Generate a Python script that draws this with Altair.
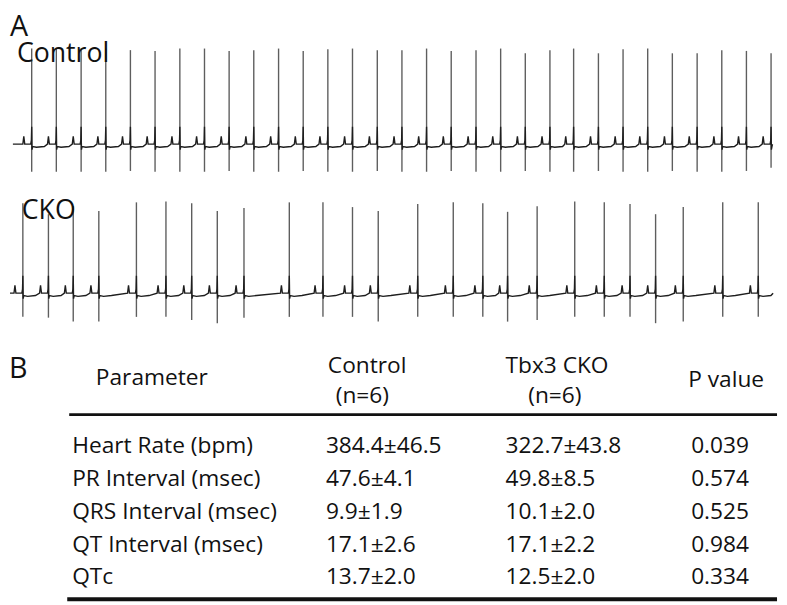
import altair as alt
import pandas as pd

FONT = "Open Sans"

# ---------------- ECG data (beat time in s, R peak and S trough in mV) ----------------
ctrl_t = [0.150, 0.306, 0.463, 0.619, 0.775, 0.931, 1.088, 1.244, 1.400, 1.556, 1.713,
          1.869, 2.025, 2.181, 2.338, 2.494, 2.650, 2.806, 2.963, 3.119, 3.275, 3.431,
          3.581, 3.738, 3.894, 4.050, 4.206, 4.363, 4.519, 4.675, 4.831]
ctrl_r = [1.21, 1.21, 1.21, 1.21, 1.19, 1.18, 1.21, 1.21, 1.18, 1.19, 1.21,
          1.18, 1.20, 1.21, 1.19, 1.19, 1.21, 1.18, 1.19, 1.21, 1.15, 1.19,
          1.21, 1.15, 1.20, 1.21, 1.15, 1.15, 1.19, 1.18, 1.15]
ctrl_s = [-0.35, -0.35, -0.35, -0.35, -0.34, -0.35, -0.35, -0.35, -0.34, -0.35, -0.35,
          -0.34, -0.35, -0.35, -0.34, -0.35, -0.35, -0.34, -0.35, -0.35, -0.34, -0.35,
          -0.35, -0.34, -0.35, -0.35, -0.34, -0.35, -0.35, -0.34, -0.30]
ctrl_span = [0.031, 4.840]

cko_t = [0.094, 0.256, 0.413, 0.575, 0.813, 1.000, 1.163, 1.325, 1.494, 1.781, 1.994,
         2.181, 2.344, 2.594, 2.819, 3.006, 3.163, 3.350, 3.588, 3.775, 3.938, 4.100,
         4.275, 4.525, 4.750]
cko_r = [1.14, 1.00, 1.10, 1.04, 1.15, 1.16, 1.14, 1.04, 1.08, 1.15, 1.15,
         1.09, 1.04, 1.13, 1.15, 1.14, 1.03, 1.10, 1.16, 1.15, 1.13, 1.00,
         1.09, 1.15, 1.15]
cko_s = [-0.30, -0.31, -0.36, -0.36, -0.30, -0.30, -0.34, -0.38, -0.31, -0.30, -0.30,
         -0.30, -0.36, -0.30, -0.30, -0.30, -0.36, -0.34, -0.30, -0.30, -0.30, -0.38,
         -0.36, -0.30, -0.30]
cko_span = [0.0125, 4.844]

# ---------------- Table data ----------------
header_labels = ["Parameter", "Control", "(n=6)", "Tbx3 CKO", "(n=6)", "P value"]
parameters = ["Heart Rate (bpm)", "PR Interval (msec)", "QRS Interval (msec)",
              "QT Interval (msec)", "QTc"]
control_vals = ["384.4±46.5", "47.6±4.1", "9.9±1.9", "17.1±2.6", "13.7±2.0"]
cko_vals = ["322.7±43.8", "49.8±8.5", "10.1±2.0", "17.1±2.2", "12.5±2.0"]
p_vals = ["0.039", "0.574", "0.525", "0.984", "0.334"]

# ---------------- Layout / style (not data) ----------------
W = 779
T_MAX = 779 / 160.0
# small waveform shape drawn around every beat (P wave, QRS foot, ST segment)
BEAT_SHAPE = [(-0.056, 0.0), (-0.050, 0.10), (-0.044, 0.0),
              (-0.006, 0.0), (-0.002, 0.05), (0.0, 0.22), (0.002, -0.07),
              (0.006, -0.03), (0.030, -0.04), (0.080, -0.03)]
COL_X = {"param": 65, "ctrl": 322, "cko": 504, "p": 692}
HEAD_POS = [(89, -2.075), (324, -2.43), (332, -1.52), (504, -2.43), (527, -1.52), (689, -2.015)]
TEXT_COLOR = "#111111"
TABLE_FS = 23


def trace_frame(ts, span):
    pts = [(span[0], 0.0)]
    for t in ts:
        for dt, v in BEAT_SHAPE:
            if span[0] < t + dt < span[1]:
                pts.append((t + dt, v))
    pts.append((span[1], 0.0))
    return pd.DataFrame({"t": [p[0] for p in pts], "mv": [p[1] for p in pts],
                         "i": list(range(len(pts)))})


def ann(text, x, y, size):
    return alt.Chart(pd.DataFrame({"label": [text]})).mark_text(
        align="left", baseline="alphabetic", fontSize=size, font=FONT, color=TEXT_COLOR
    ).encode(x=alt.value(x), y=alt.value(y), text="label:N")


def ecg_panel(ts, rs, ss, span, ydom, height, labels):
    xs = alt.Scale(domain=[0, T_MAX], nice=False, zero=False)
    ys = alt.Scale(domain=ydom, nice=False, zero=False)
    beats = pd.DataFrame({"t": ts, "r": rs, "s": ss})
    line = alt.Chart(trace_frame(ts, span)).mark_line(
        color="#1e1e1e", strokeWidth=1.4, clip=True
    ).encode(x=alt.X("t:Q", scale=xs, axis=None),
             y=alt.Y("mv:Q", scale=ys, axis=None),
             order="i:Q")
    spikes = alt.Chart(beats).mark_rule(color="#5e5e5e", strokeWidth=1.4).encode(
        x=alt.X("t:Q", scale=xs, axis=None),
        y=alt.Y("s:Q", scale=ys, axis=None),
        y2="r:Q")
    layers = [spikes, line] + labels
    return alt.layer(*layers).properties(width=W, height=height)


p1 = ecg_panel(ctrl_t, ctrl_r, ctrl_s, ctrl_span, [-0.45, 1.675], 170,
               [ann("A", 2, 24, 29), ann("Control", 9, 51, 27)])
p2 = ecg_panel(cko_t, cko_r, cko_s, cko_span, [-0.4625, 1.4375], 152,
               [ann("CKO", 14, 40, 27)])

# ---------------- Table panel ----------------
rows = []
for i in range(len(parameters)):
    rows.append({"x": COL_X["param"], "row": i, "txt": parameters[i]})
    rows.append({"x": COL_X["ctrl"], "row": i, "txt": control_vals[i]})
    rows.append({"x": COL_X["cko"], "row": i, "txt": cko_vals[i]})
    rows.append({"x": COL_X["p"], "row": i, "txt": p_vals[i]})
cells = pd.DataFrame(rows)
heads = pd.DataFrame({"x": [h[0] for h in HEAD_POS], "row": [h[1] for h in HEAD_POS],
                      "txt": header_labels})
lines = pd.DataFrame({"x": [62, 60], "x2": [W, W], "row": [-1.173, 4.451]})

txs = alt.Scale(domain=[0, W], nice=False, zero=False)
tys = alt.Scale(domain=[-3.759, 4.511], reverse=True, nice=False, zero=False)

cell_text = alt.Chart(cells).mark_text(
    align="left", baseline="alphabetic", fontSize=TABLE_FS, font=FONT, color=TEXT_COLOR
).encode(x=alt.X("x:Q", scale=txs, axis=None), y=alt.Y("row:Q", scale=tys, axis=None), text="txt:N")
head_text = alt.Chart(heads).mark_text(
    align="left", baseline="alphabetic", fontSize=TABLE_FS, font=FONT, color=TEXT_COLOR
).encode(x=alt.X("x:Q", scale=txs, axis=None), y=alt.Y("row:Q", scale=tys, axis=None), text="txt:N")
top_rule = alt.Chart(lines.iloc[[0]]).mark_rule(color="#111", strokeWidth=2.6).encode(
    x=alt.X("x:Q", scale=txs, axis=None), x2="x2:Q", y=alt.Y("row:Q", scale=tys, axis=None))
bot_rule = alt.Chart(lines.iloc[[1]]).mark_rule(color="#111", strokeWidth=4.0).encode(
    x=alt.X("x:Q", scale=txs, axis=None), x2="x2:Q", y=alt.Y("row:Q", scale=tys, axis=None))

p3 = alt.layer(top_rule, bot_rule, head_text, cell_text, ann("B", 1, 49, 29)).properties(width=W, height=275)

chart = alt.vconcat(p1, p2, p3, spacing=0).properties(
    padding=0, background="white"
).configure_view(stroke=None)

chart.save("out.html", embed_options={"renderer": "svg", "actions": False})
